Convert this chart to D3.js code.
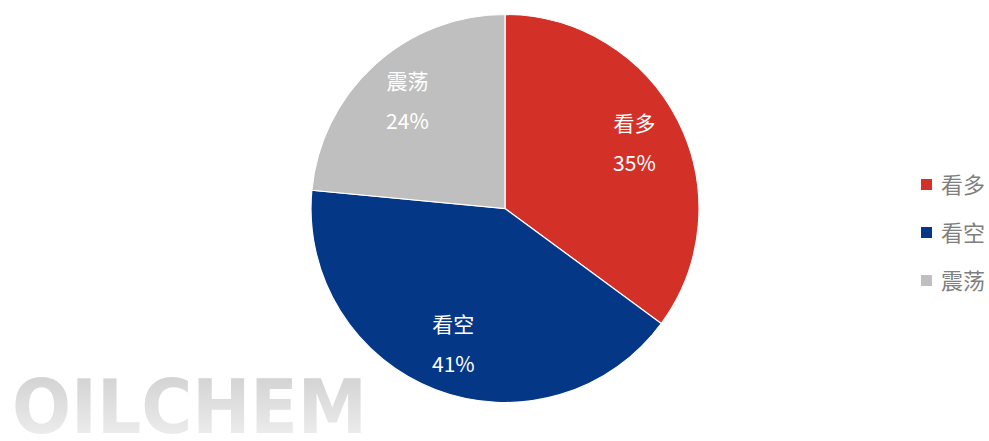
<!DOCTYPE html>
<html>
<head>
<meta charset="utf-8">
<script src="https://cdn.jsdelivr.net/npm/d3@7"></script>
<style>
  body { margin: 0; background: #fff; }
  svg { display: block; font-family: "Noto Sans CJK SC", "Microsoft YaHei", sans-serif; }
</style>
</head>
<body>
<svg id="chart" width="989" height="441"></svg>
<script>
// data
var categories = ["看多", "看空", "震荡"];
var values = [35.1, 41.4, 23.5];
var pctLabels = ["35%", "41%", "24%"];
var colors = ["#d33027", "#043887", "#bfbfbf"];

var svg = d3.select("#chart");
var cx = 505, cy = 208.5, radius = 194;

// watermark
var defs = svg.append("defs");
var grad = defs.append("linearGradient").attr("id", "wm")
    .attr("x1", 0).attr("y1", 0).attr("x2", 0).attr("y2", 1);
grad.append("stop").attr("offset", "0%").attr("stop-color", "#cdcdcd");
grad.append("stop").attr("offset", "100%").attr("stop-color", "#f3f3f3");

svg.append("text")
    .attr("x", 12).attr("y", 433)
    .attr("font-family", "'DejaVu Sans Condensed', 'DejaVu Sans', sans-serif")
    .attr("font-weight", "bold")
    .attr("font-size", 75)
    .attr("textLength", 355)
    .attr("lengthAdjust", "spacingAndGlyphs")
    .attr("fill", "url(#wm)")
    .text("OILCHEM");

var pie = d3.pie().sort(null).value(d => d);
var arc = d3.arc().innerRadius(0).outerRadius(radius);
var labelArc = d3.arc().innerRadius(145).outerRadius(145);

var g = svg.append("g").attr("transform", "translate(" + cx + "," + cy + ")");
var arcs = pie(values);

g.selectAll("path.slice")
    .data(arcs)
  .enter().append("path")
    .attr("class", "slice")
    .attr("d", arc)
    .attr("fill", (d, i) => colors[i])
    .attr("stroke", "#fff")
    .attr("stroke-width", 1.2);

var labels = g.selectAll("g.lbl")
    .data(arcs)
  .enter().append("g")
    .attr("class", "lbl")
    .attr("transform", d => "translate(" + labelArc.centroid(d) + ")");

labels.append("text")
    .attr("text-anchor", "middle")
    .attr("y", -12)
    .attr("fill", "#fff")
    .attr("font-size", 21)
    .text((d, i) => categories[i]);

labels.append("text")
    .attr("text-anchor", "middle")
    .attr("y", 28)
    .attr("fill", "#fff")
    .attr("font-size", 21)
    .text((d, i) => pctLabels[i]);

// legend
var legend = svg.append("g").attr("transform", "translate(921,185)");
var rows = legend.selectAll("g")
    .data(categories)
  .enter().append("g")
    .attr("transform", (d, i) => "translate(0," + i * 48 + ")");

rows.append("rect")
    .attr("x", 0).attr("y", -6)
    .attr("width", 11).attr("height", 11)
    .attr("fill", (d, i) => colors[i]);

rows.append("text")
    .attr("x", 20).attr("y", 8)
    .attr("fill", "#7f7f7f")
    .attr("font-size", 22)
    .text(d => d);
</script>
</body>
</html>
